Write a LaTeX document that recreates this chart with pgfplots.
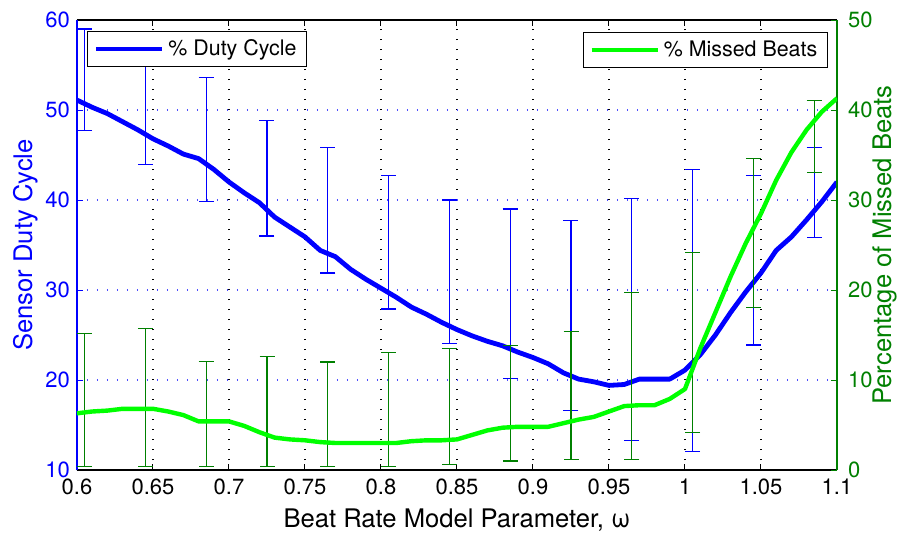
\documentclass[border=0pt]{standalone}
\usepackage{fontspec}
\setmainfont{TeX Gyre Heros}
\usepackage{pgfplots}
\pgfplotsset{compat=1.18}
\usepackage{pgfplotstable}
\usetikzlibrary{calc}
\definecolor{dgreen}{rgb}{0,0.5,0}
\definecolor{bgreen}{rgb}{0,1,0}

\pgfplotstableread{
x y
0.60 51.1
0.61 50.3
0.62 49.6
0.63 48.7
0.64 47.8
0.65 46.8
0.66 46.0
0.67 45.1
0.68 44.6
0.69 43.4
0.70 42.0
0.71 40.8
0.72 39.7
0.73 38.1
0.74 37.0
0.75 35.9
0.76 34.4
0.77 33.7
0.78 32.3
0.79 31.2
0.80 30.2
0.81 29.2
0.82 28.1
0.83 27.3
0.84 26.4
0.85 25.6
0.86 24.9
0.87 24.3
0.88 23.8
0.89 23.1
0.90 22.5
0.91 21.8
0.92 20.8
0.93 20.1
0.94 19.8
0.95 19.4
0.96 19.5
0.97 20.1
0.98 20.1
0.99 20.1
1.00 21.1
1.01 22.8
1.02 25.0
1.03 27.5
1.04 29.8
1.05 31.9
1.06 34.4
1.07 35.9
1.08 37.8
1.09 39.8
1.10 42.0
}\duty

\pgfplotstableread{
x y
0.60 6.3
0.61 6.5
0.62 6.6
0.63 6.8
0.64 6.8
0.65 6.8
0.66 6.5
0.67 6.1
0.68 5.4
0.69 5.4
0.70 5.4
0.71 4.9
0.72 4.2
0.73 3.6
0.74 3.4
0.75 3.3
0.76 3.1
0.77 3.0
0.78 3.0
0.79 3.0
0.80 3.0
0.81 3.0
0.82 3.2
0.83 3.3
0.84 3.3
0.85 3.4
0.86 3.9
0.87 4.4
0.88 4.7
0.89 4.8
0.90 4.8
0.91 4.8
0.92 5.2
0.93 5.6
0.94 5.9
0.95 6.5
0.96 7.1
0.97 7.2
0.98 7.2
0.99 7.9
1.00 9.0
1.01 13.5
1.02 17.5
1.03 21.5
1.04 25.2
1.05 28.5
1.06 32.2
1.07 35.3
1.08 37.8
1.09 39.8
1.10 41.3
}\missed

\pgfplotstableread{
x m e
0.605 53.35 5.65
0.645 49.45 5.55
0.685 46.70 6.90
0.725 42.40 6.40
0.765 38.85 6.95
0.805 35.30 7.40
0.845 32.05 7.95
0.885 29.60 9.40
0.925 27.15 10.55
0.965 26.75 13.45
1.005 27.75 15.65
1.045 33.30 9.40
1.085 40.80 5.00
}\dutyerr

\pgfplotstableread{
x m e
0.605 7.80 7.40
0.645 8.05 7.65
0.685 6.25 5.85
0.725 6.50 6.10
0.765 6.20 5.80
0.805 6.75 6.35
0.845 7.05 6.45
0.885 7.40 6.40
0.925 8.30 7.10
0.965 10.45 9.25
1.005 14.20 10.00
1.045 26.35 8.25
1.085 37.10 4.00
}\missederr

\begin{document}
\begin{tikzpicture}
\pgfplotsset{
  every axis/.append style={
    scale only axis, width=380pt, height=225pt,
    xmin=0.6, xmax=1.1,
    tick align=inside, major tick length=3pt,
    /pgf/number format/assume math mode=true,
    tick label style={font=\fontsize{11}{13}\selectfont},
    label style={font=\fontsize{12.8}{15}\selectfont},
    legend style={font=\fontsize{10.7}{12.5}\selectfont, draw=black, line width=0.6pt, fill=white,
      inner xsep=3pt, inner ysep=2pt, legend cell align=left},
    legend image code/.code={\draw[#1] (0pt,0pt) -- (33pt,0pt);},
  },
}
\begin{axis}[
  name=ax,
  axis x line*=box, axis y line*=left,
  x axis line style={black, line width=0.6pt},
  y axis line style={blue, line width=0.6pt},
  ymin=10, ymax=60, ytick={10,20,30,40,50,60},
  xtick={0.6,0.65,0.7,0.75,0.8,0.85,0.9,0.95,1,1.05,1.1},
  xticklabels={0.6,0.65,0.7,0.75,0.8,0.85,0.9,0.95,1,1.05,1.1},
  xticklabel style={yshift=-1pt},
  x tick style={black, line width=0.5pt},
  y tick style={blue, line width=0.5pt},
  yticklabel style={blue},
  grid=major,
  x grid style={black, line width=0.6pt, dash pattern=on 0.6pt off 4.4pt},
  y grid style={blue!70, line width=0.6pt, dash pattern=on 0.6pt off 4.4pt},
  xlabel={Beat Rate Model Parameter, ω},
  xlabel style={at={(axis description cs:0.5,-0.111)}, anchor=center},
  ylabel={Sensor Duty Cycle},
  every axis y label/.style={at={(axis description cs:-0.068,0.5)}, rotate=90, anchor=center, blue, font=\fontsize{12.8}{15}\selectfont},
  legend style={at={(axis description cs:0.0132,0.9756)}, anchor=north west},
]
\addplot[draw=none, mark=none, forget plot,
  error bars/.cd, y dir=both, y explicit,
  error bar style={draw=blue, line width=0.6pt},
  error mark options={draw=blue, rotate=90, mark size=3.75pt, line width=0.6pt}]
  table[x=x, y=m, y error=e] {\dutyerr};
\addplot[blue, line width=2.4pt, line join=round] table[x=x, y=y] {\duty};
\addlegendentry{\% Duty Cycle}
\end{axis}
\begin{axis}[
  axis x line=none, axis y line*=right,
  y axis line style={dgreen, line width=0.6pt},
  ymin=0, ymax=50, ytick={0,10,20,30,40,50},
  y tick style={dgreen, line width=0.5pt},
  yticklabel style={dgreen, xshift=2pt},
  ylabel={Percentage of Missed Beats},
  every axis y label/.style={at={(axis description cs:1.0625,0.5)}, rotate=90, anchor=center, dgreen, font=\fontsize{12.8}{15}\selectfont},
  legend style={at={(axis description cs:0.988,0.9733)}, anchor=north east},
]
\addplot[draw=none, mark=none, forget plot,
  error bars/.cd, y dir=both, y explicit,
  error bar style={draw=dgreen, line width=0.6pt},
  error mark options={draw=dgreen, rotate=90, mark size=3.75pt, line width=0.6pt}]
  table[x=x, y=m, y error=e] {\missederr};
\addplot[bgreen, line width=2.2pt, line join=round] table[x=x, y=y] {\missed};
\addlegendentry{\% Missed Beats}
\end{axis}
\pgfresetboundingbox
\path[use as bounding box] ($(ax.south west)+(-38.5pt,-33pt)$) rectangle ($(ax.north east)+(31.5pt,10pt)$);
\end{tikzpicture}
\end{document}
